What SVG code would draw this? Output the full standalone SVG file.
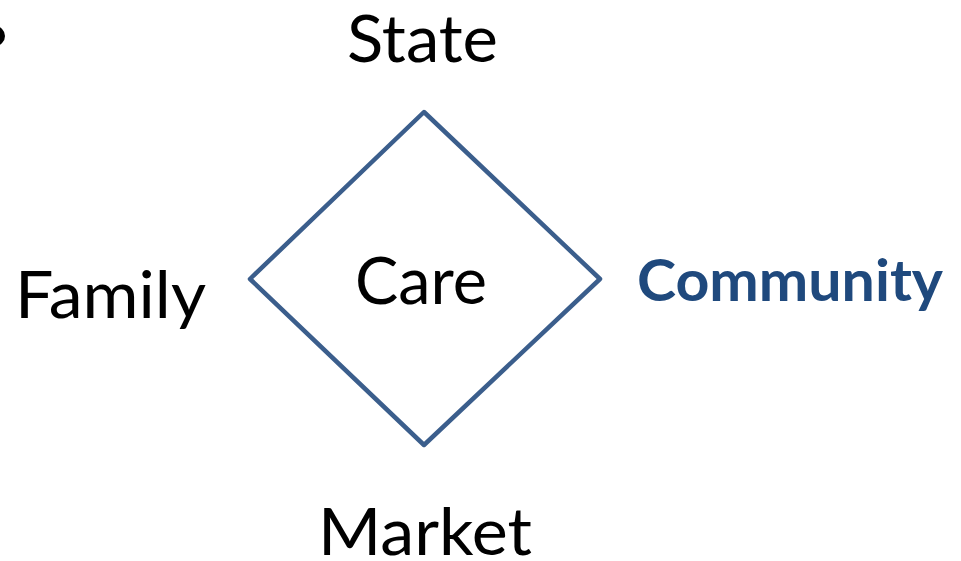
<svg xmlns="http://www.w3.org/2000/svg" width="961" height="561" viewBox="0 0 961 561">
  <style>
    .lbl { font-family: Lato, "Open Sans", "Liberation Sans", sans-serif; font-size: 66px; fill: #000; }
    .accent { font-weight: bold; font-size: 58px; fill: #1F497D; }
    .frame { fill: #fff; stroke: #3B5E8C; stroke-width: 4.5; stroke-linejoin: round; }
  </style>
  <rect width="961" height="561" fill="#fff"/>
  <!-- bullet cut off at the left edge -->
  <circle cx="-5" cy="36" r="10" fill="#000"/>
  <g id="care">
    <polygon class="frame" points="424,112 600,279 424,445 250,279"/>
    <text class="lbl" x="355" y="304" textLength="132" lengthAdjust="spacingAndGlyphs">Care</text>
  </g>
  <g id="state">
    <text class="lbl" x="347" y="62" textLength="151" lengthAdjust="spacingAndGlyphs">State</text>
  </g>
  <g id="family">
    <text class="lbl" x="15" y="318" textLength="191" lengthAdjust="spacingAndGlyphs">Family</text>
  </g>
  <g id="community">
    <text class="lbl accent" x="637" y="301" textLength="306" lengthAdjust="spacingAndGlyphs">Community</text>
  </g>
  <g id="market">
    <text class="lbl" x="318" y="555" textLength="214" lengthAdjust="spacingAndGlyphs">Market</text>
  </g>
</svg>
